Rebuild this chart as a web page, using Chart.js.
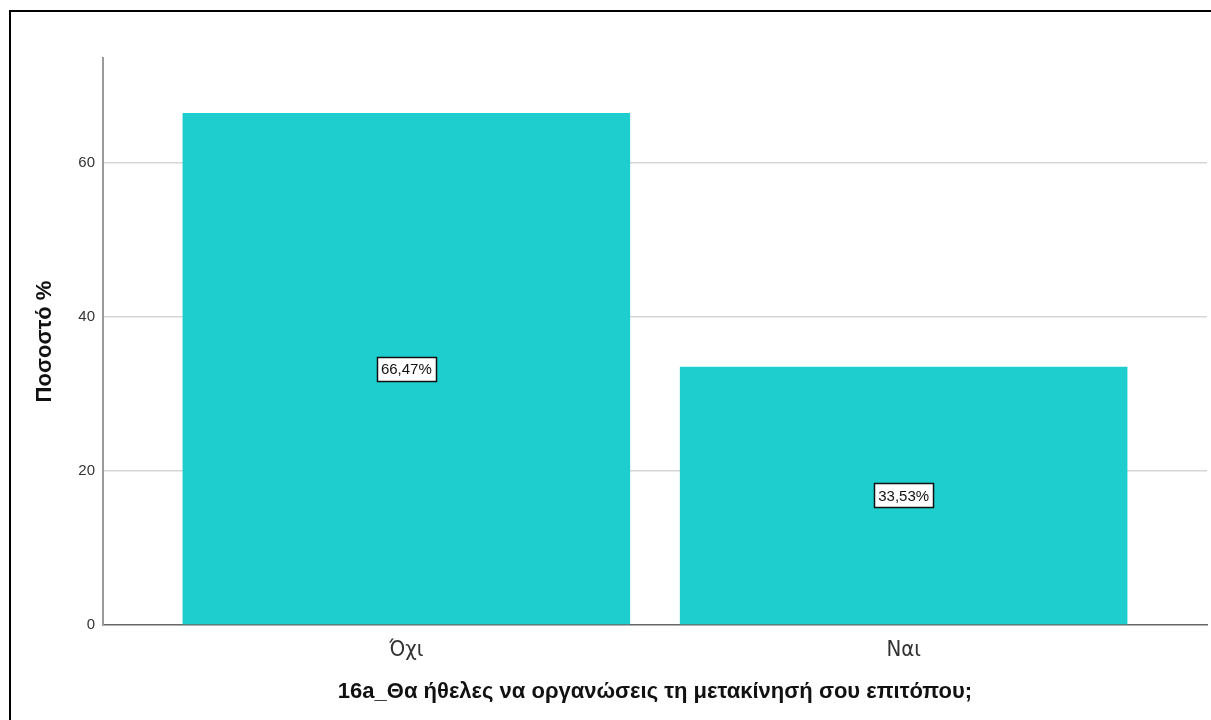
<!DOCTYPE html>
<html lang="el">
<head>
<meta charset="utf-8">
<title>16a_Θα ήθελες να οργανώσεις τη μετακίνησή σου επιτόπου;</title>
<script src="https://cdn.jsdelivr.net/npm/chart.js@4/dist/chart.umd.min.js"></script>
<style>
    html, body { margin: 0; padding: 0; background: #fff; overflow: hidden; }
    #wrap { position: relative; width: 1211px; height: 720px; }
    #wrap canvas { position: absolute; left: 0; top: 0; }
    #frame {
        position: absolute; left: 9px; top: 10px;
        width: 1300px; height: 800px;
        border: 2.5px solid #000; pointer-events: none;
    }
</style>
</head>
<body>
<div id="wrap">
    <canvas id="answerChart" width="1211" height="720"></canvas>
    <div id="frame"></div>
</div>
<script>
// Answers to question 16a (percent of respondents)
const categories = ['Όχι', 'Ναι'];
const percentages = [66.47, 33.53];
const yTicks = [0, 20, 40, 60];
const yMax = 73.6;

const BAR_COLOR = '#1ECDCD';
const FONT = '"Liberation Sans", Arial, sans-serif';
const NARROW_FONT = '"Liberation Sans Narrow", "Arial Narrow", "DejaVu Sans Condensed", sans-serif';

// Percent strings with a decimal comma, e.g. "66,47%"
const valueLabels = percentages.map(v => v.toFixed(2).replace('.', ',') + '%');

// Boxed value label in the middle of each bar
const valueBoxes = {
    id: 'valueBoxes',
    afterDatasetsDraw(chart) {
        const ctx = chart.ctx;
        const meta = chart.getDatasetMeta(0);
        ctx.save();
        ctx.font = '15px ' + FONT;
        ctx.textAlign = 'center';
        ctx.textBaseline = 'middle';
        meta.data.forEach((bar, i) => {
            const text = valueLabels[i];
            const cx = bar.x;
            const cy = (bar.y + bar.base) / 2;
            const w = Math.round(ctx.measureText(text).width + 8);
            const h = 24;
            const x0 = Math.round(cx - w / 2) + 0.5;
            const y0 = Math.round(cy - h / 2) + 0.5;
            ctx.fillStyle = '#fff';
            ctx.fillRect(x0, y0, w, h);
            ctx.strokeStyle = '#111';
            ctx.lineWidth = 1.5;
            ctx.strokeRect(x0, y0, w, h);
            ctx.fillStyle = '#111';
            ctx.fillText(text, cx, cy + 1);
        });
        ctx.restore();
    }
};

function createAnswerChart(canvasId) {
    const canvas = document.getElementById(canvasId);
    if (!canvas) return null;

    return new Chart(canvas, {
        type: 'bar',
        data: {
            datasets: [{
                data: categories.map((c, i) => ({ x: i, y: percentages[i] })),
                backgroundColor: BAR_COLOR,
                borderWidth: 0,
                barPercentage: 0.9,
                categoryPercentage: 1
            }]
        },
        options: {
            responsive: false,
            animation: false,
            layout: { padding: { left: 0, right: 4, top: 58, bottom: 0 } },
            plugins: {
                legend: { display: false },
                tooltip: { enabled: false }
            },
            scales: {
                x: {
                    type: 'linear',
                    offset: false,
                    min: -0.61,
                    max: 1.61,
                    afterBuildTicks: scale => {
                        scale.ticks = categories.map((c, i) => ({ value: i }));
                    },
                    afterFit: scale => { scale.height = 95; },
                    grid: { display: false, drawTicks: false, offset: false },
                    border: { display: true, color: '#666', width: 1.5 },
                    ticks: {
                        padding: 12,
                        color: '#333',
                        font: { family: NARROW_FONT, size: 22 },
                        callback: value => categories[value]
                    },
                    title: {
                        display: true,
                        text: '16a_Θα ήθελες να οργανώσεις τη μετακίνησή σου επιτόπου;',
                        color: '#111',
                        font: { family: FONT, size: 22, weight: 'bold' },
                        padding: { top: 0, bottom: 15 }
                    }
                },
                y: {
                    min: 0,
                    max: yMax,
                    afterBuildTicks: scale => {
                        scale.ticks = yTicks.map(v => ({ value: v }));
                    },
                    afterFit: scale => { scale.width = 103; },
                    grid: {
                        drawTicks: false,
                        lineWidth: 1.5,
                        color: c => (c.tick && c.tick.value === 0) ? 'rgba(0,0,0,0)' : '#d6d6d6'
                    },
                    border: { display: true, color: '#9a9a9a', width: 2 },
                    ticks: {
                        padding: 8,
                        color: '#333',
                        font: { family: FONT, size: 15 }
                    },
                    title: {
                        display: true,
                        text: 'Ποσοστό %',
                        color: '#111',
                        font: { family: FONT, size: 22, weight: 'bold' },
                        padding: { top: 32, bottom: 0 }
                    }
                }
            }
        },
        plugins: [valueBoxes]
    });
}

document.addEventListener('DOMContentLoaded', () => createAnswerChart('answerChart'));
</script>
</body>
</html>
